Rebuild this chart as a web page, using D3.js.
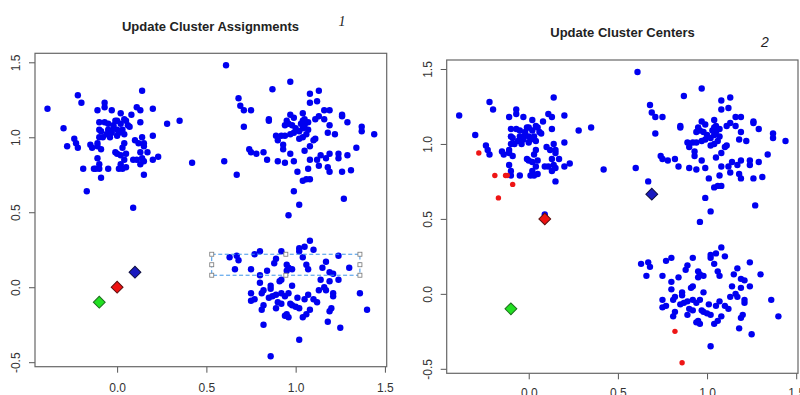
<!DOCTYPE html>
<html>
<head>
<meta charset="utf-8">
<script src="https://cdn.jsdelivr.net/npm/d3@7"></script>
<style>
  html, body { margin: 0; padding: 0; background: #fff; }
  svg { display: block; font-family: "Liberation Sans", Arial, sans-serif; }
</style>
</head>
<body>
<div id="chart"></div>
<script>
// point cloud (same points in both panels)
const clusterTopLeft = [
  [-0.22,1.28],[-0.20,1.23],[-0.39,1.19],[-0.30,1.06],[-0.11,1.18],[-0.07,1.23],[-0.07,1.20],[-0.03,1.18],
  [0.02,1.16],[-0.10,1.10],[-0.07,1.10],[-0.05,1.09],[-0.01,1.11],[0.00,1.11],[-0.02,1.06],[0.00,1.05],
  [-0.03,1.03],[-0.04,1.00],[0.00,1.01],[0.02,1.09],[-0.10,1.05],[-0.09,1.04],[-0.10,1.00],[-0.08,1.00],
  [-0.24,0.99],[-0.23,0.96],[-0.28,0.94],[-0.22,0.93],[-0.15,0.95],[-0.14,0.93],[-0.11,0.96],[-0.11,0.94],
  [-0.09,0.92],[-0.01,0.90],[0.00,0.89],[0.02,0.88],[-0.11,0.86],[-0.10,0.82],[-0.13,0.79],[-0.12,0.79],
  [-0.10,0.79],[-0.05,0.79],[0.01,0.79],[-0.19,0.79],[0.02,0.82],[-0.09,0.73],[-0.17,0.64],
  [0.14,1.31],[0.11,1.20],[0.13,1.18],[0.20,1.19],[0.08,1.15],[0.04,1.12],[0.13,1.10],[0.05,1.11],
  [0.07,1.07],[0.03,1.05],[0.28,1.09],[0.35,1.11],[0.20,1.01],[0.14,1.00],[0.10,0.98],[0.12,0.96],
  [0.15,0.96],[0.15,0.94],[0.04,0.96],[0.03,0.93],[0.13,0.90],[0.17,0.90],[0.05,0.89],[0.09,0.85],
  [0.11,0.85],[0.14,0.86],[0.15,0.84],[0.13,0.82],[0.04,0.85],[0.05,0.80],[0.03,0.79],[0.20,0.85],
  [0.23,0.87],[0.42,0.83],[0.15,0.75],[0.09,0.53],
  [-0.05,1.05],[-0.02,1.08],[0.01,1.03],[-0.06,1.02],[0.04,1.02],[0.06,1.08]
];
const clusterTopRight = [
  [0.61,1.48],[0.97,1.37],[0.87,1.32],[0.68,1.26],[0.69,1.21],[0.71,1.18],[0.75,1.18],[0.85,1.12],
  [0.85,1.11],[0.71,1.07],[0.97,1.15],[0.99,1.13],[0.95,1.11],[0.96,1.09],[0.94,1.08],[0.89,1.01],
  [0.90,0.98],[0.92,1.01],[0.94,1.01],[0.97,1.02],[0.99,1.03],[0.93,0.95],[0.93,0.92],[0.74,0.92],
  [0.75,0.90],[0.78,0.89],[0.82,0.90],[0.84,0.85],[0.90,0.84],[0.94,0.83],[0.97,0.89],[0.99,0.84],
  [0.60,0.84],[0.67,0.75],[1.01,0.77],[0.99,0.64],[1.02,0.55],[0.96,0.48],
  [1.13,1.31],[1.08,1.29],[1.08,1.23],[1.12,1.24],[1.16,1.18],[1.19,1.18],[1.26,1.15],[1.26,1.14],
  [1.29,1.10],[1.04,1.16],[1.05,1.12],[1.04,1.11],[1.07,1.10],[1.05,1.08],[1.04,1.06],[1.07,1.05],
  [1.11,1.12],[1.13,1.14],[1.16,1.12],[1.19,1.08],[1.18,1.03],[1.22,1.02],[1.37,1.07],[1.37,1.04],
  [1.44,1.02],[1.02,0.99],[1.04,1.00],[1.10,0.98],[1.11,0.99],[1.08,0.94],[1.05,0.91],[1.34,0.93],
  [1.19,0.89],[1.24,0.89],[1.24,0.86],[1.29,0.88],[1.14,0.88],[1.17,0.86],[1.12,0.85],[1.08,0.85],
  [1.13,0.81],[1.18,0.80],[1.19,0.77],[1.26,0.77],[1.31,0.78],[1.07,0.79],[1.08,0.72],[1.06,0.72],
  [1.04,0.71],[1.27,0.59],
  [1.00,1.06],[1.02,1.04],[0.98,1.08],[1.03,1.09],[1.06,1.02]
];
const clusterBottomRight = [
  [0.63,0.20],[0.67,0.21],[0.68,0.18],[0.66,0.12],[0.75,0.12],[0.77,0.22],[0.80,0.24],[0.92,0.24],
  [0.89,0.19],[0.88,0.16],[0.84,0.11],[0.95,0.15],[0.96,0.13],[0.95,0.11],[0.98,0.12],[0.80,0.08],
  [0.80,0.03],[0.86,0.01],[0.86,-0.01],[0.91,0.04],[0.92,0.05],[0.98,0.01],[0.82,-0.02],[0.81,-0.04],
  [0.75,-0.04],[0.75,-0.09],[0.77,-0.08],[0.85,-0.07],[0.87,-0.06],[0.89,-0.05],[0.92,-0.04],[0.94,-0.06],
  [0.96,-0.04],[0.90,-0.10],[0.92,-0.11],[0.89,-0.14],[0.82,-0.12],[0.81,-0.15],[0.97,-0.11],[0.98,-0.12],
  [0.94,-0.19],[0.96,-0.20],[0.95,-0.18],[0.82,-0.25],[0.86,-0.46],
  [1.08,0.31],[1.05,0.27],[1.02,0.26],[1.02,0.24],[1.04,0.20],[1.10,0.25],[1.24,0.21],[1.17,0.17],
  [1.06,0.15],[1.07,0.12],[1.15,0.13],[1.30,0.13],[1.19,0.10],[1.21,0.09],[1.19,0.04],[1.24,0.05],
  [1.14,0.05],[1.16,0.00],[1.17,-0.02],[1.13,-0.02],[1.21,-0.04],[1.21,-0.06],[1.36,-0.04],[1.07,-0.05],
  [1.05,-0.08],[1.10,-0.08],[1.12,-0.10],[1.01,-0.07],[1.00,-0.13],[1.02,-0.14],[1.08,-0.15],[1.06,-0.18],
  [1.04,-0.20],[1.20,-0.14],[1.19,-0.16],[1.40,-0.15],[1.18,-0.23],[1.25,-0.27],[1.02,-0.35]
];
// points that end up in the red cluster in step 2
const redAfterStep2 = [
  [-0.28,0.94],[-0.19,0.79],[-0.13,0.79],[-0.12,0.79],[-0.09,0.73],[-0.17,0.64],[0.82,-0.25],[0.86,-0.46]
];
// centers: [x, y, cluster]
const centersStep1 = [[-0.10,-0.10,"green"],[0.00,0.00,"red"],[0.10,0.10,"blue"]];
const centersStep2 = [[-0.10,-0.10,"green"],[0.09,0.50,"red"],[0.69,0.665,"blue"]];
// rubber-band selection left in the first screenshot: [x0, x1, y0, y1]
const selection = [0.53, 1.36, 0.08, 0.22];

const xTicks = [0, 0.5, 1, 1.5];
const yTicks = [-0.5, 0, 0.5, 1, 1.5];
const xDomain = [-0.46, 1.51];
const yDomain = [-0.53, 1.56];

const allPoints = clusterTopLeft.concat(clusterTopRight, clusterBottomRight);
const isRed = p => redAfterStep2.some(r => r[0] === p[0] && r[1] === p[1]);

const centerFill = { green: "#22e022", red: "#ee1111", blue: "#1a1ac0" };
const centerStroke = { green: "#1d6d1d", red: "#5a1010", blue: "#101040" };

const svg = d3.select("#chart").append("svg")
  .attr("width", 800)
  .attr("height", 395);

function drawPanel(p) {
  const x = d3.scaleLinear().domain(xDomain).range([p.left, p.right]);
  const y = d3.scaleLinear().domain(yDomain).range([p.bottom, p.top]);
  const g = svg.append("g");

  // axes, R style
  const ax = g.append("g")
    .attr("transform", `translate(0,${p.bottom})`)
    .call(d3.axisBottom(x).tickValues(xTicks).tickFormat(d => d.toFixed(1)).tickSize(6).tickSizeOuter(0));
  ax.select(".domain").remove();
  ax.selectAll("line").attr("stroke", "#555");
  ax.selectAll("text")
    .attr("y", p.xLabelY).attr("dy", 0)
    .attr("fill", "#333").style("font-size", "12px");

  const ay = g.append("g")
    .attr("transform", `translate(${p.left},0)`)
    .call(d3.axisLeft(y).tickValues(yTicks).tickFormat(d => d.toFixed(1)).tickSize(6).tickSizeOuter(0));
  ay.select(".domain").remove();
  ay.selectAll("line").attr("stroke", "#555");
  ay.selectAll("text")
    .attr("transform", "rotate(-90)")
    .attr("x", 0).attr("y", p.yLabelX).attr("dy", 0)
    .attr("text-anchor", "middle")
    .attr("fill", "#333").style("font-size", "12px");

  g.append("rect")
    .attr("x", p.left).attr("y", p.top)
    .attr("width", p.right - p.left).attr("height", p.bottom - p.top)
    .attr("fill", "none").attr("stroke", "#666").attr("stroke-width", 1.2);

  // data points
  const blue = p.step === 2 ? allPoints.filter(d => !isRed(d)) : allPoints;
  g.append("g").selectAll("circle.pt")
    .data(blue)
    .join("circle")
    .attr("class", "pt")
    .attr("cx", d => x(d[0]))
    .attr("cy", d => y(d[1]))
    .attr("r", 3.2)
    .attr("fill", "#0000f0");

  if (p.step === 2) {
    g.append("g").selectAll("circle.red")
      .data(redAfterStep2)
      .join("circle")
      .attr("class", "red")
      .attr("cx", d => x(d[0]))
      .attr("cy", d => y(d[1]))
      .attr("r", 2.7)
      .attr("fill", "#ee1515");
  }

  if (p.step === 1) {
    const [x0, x1, y0, y1] = selection;
    g.append("rect")
      .attr("x", x(x0)).attr("y", y(y1))
      .attr("width", x(x1) - x(x0)).attr("height", y(y0) - y(y1))
      .attr("fill", "none").attr("stroke", "#3d95e8")
      .attr("stroke-width", 1).attr("stroke-dasharray", "4,2.5");
    const hx = [x(x0), (x(x0) + x(x1)) / 2, x(x1)];
    const hy = [y(y1), (y(y0) + y(y1)) / 2, y(y0)];
    const handles = [];
    hx.forEach((a, i) => hy.forEach((b, j) => { if (!(i === 1 && j === 1)) handles.push([a, b]); }));
    g.append("g").selectAll("rect")
      .data(handles)
      .join("rect")
      .attr("x", d => d[0] - 2).attr("y", d => d[1] - 2)
      .attr("width", 4).attr("height", 4)
      .attr("fill", "#fff").attr("stroke", "#777").attr("stroke-width", 0.8);
  }

  // cluster centers, filled diamonds
  const diamond = d3.symbol().type(d3.symbolSquare).size(70);
  g.append("g").selectAll("path")
    .data(p.centers)
    .join("path")
    .attr("d", diamond)
    .attr("transform", d => `translate(${x(d[0])},${y(d[1])}) rotate(45)`)
    .attr("fill", d => centerFill[d[2]])
    .attr("stroke", d => centerStroke[d[2]])
    .attr("stroke-width", 1);

  svg.append("text")
    .attr("x", p.titleX).attr("y", p.titleY)
    .attr("text-anchor", "middle")
    .attr("font-weight", "bold")
    .attr("fill", "#222")
    .style("font-size", "13px")
    .text(p.title);

  svg.append("text")
    .attr("x", p.tagX).attr("y", p.tagY)
    .attr("text-anchor", "middle")
    .attr("font-style", "italic")
    .attr("fill", "#222")
    .style("font-family", p.tagFont)
    .style("font-size", "14px")
    .text(p.tag);
}

drawPanel({
  step: 1, title: "Update Cluster Assignments", tag: "1",
  left: 35, right: 386.7, top: 53.3, bottom: 366.7,
  xLabelY: 25.5, yLabelX: -15.5,
  titleX: 210.5, titleY: 31, tagX: 342, tagY: 26, tagFont: "Liberation Serif",
  centers: centersStep1
});

drawPanel({
  step: 2, title: "Update Cluster Centers", tag: "2",
  left: 446.7, right: 798, top: 60, bottom: 373.3,
  xLabelY: 24, yLabelX: -14.7,
  titleX: 622.5, titleY: 37, tagX: 765, tagY: 46.5, tagFont: "Liberation Sans",
  centers: centersStep2
});
</script>
</body>
</html>
